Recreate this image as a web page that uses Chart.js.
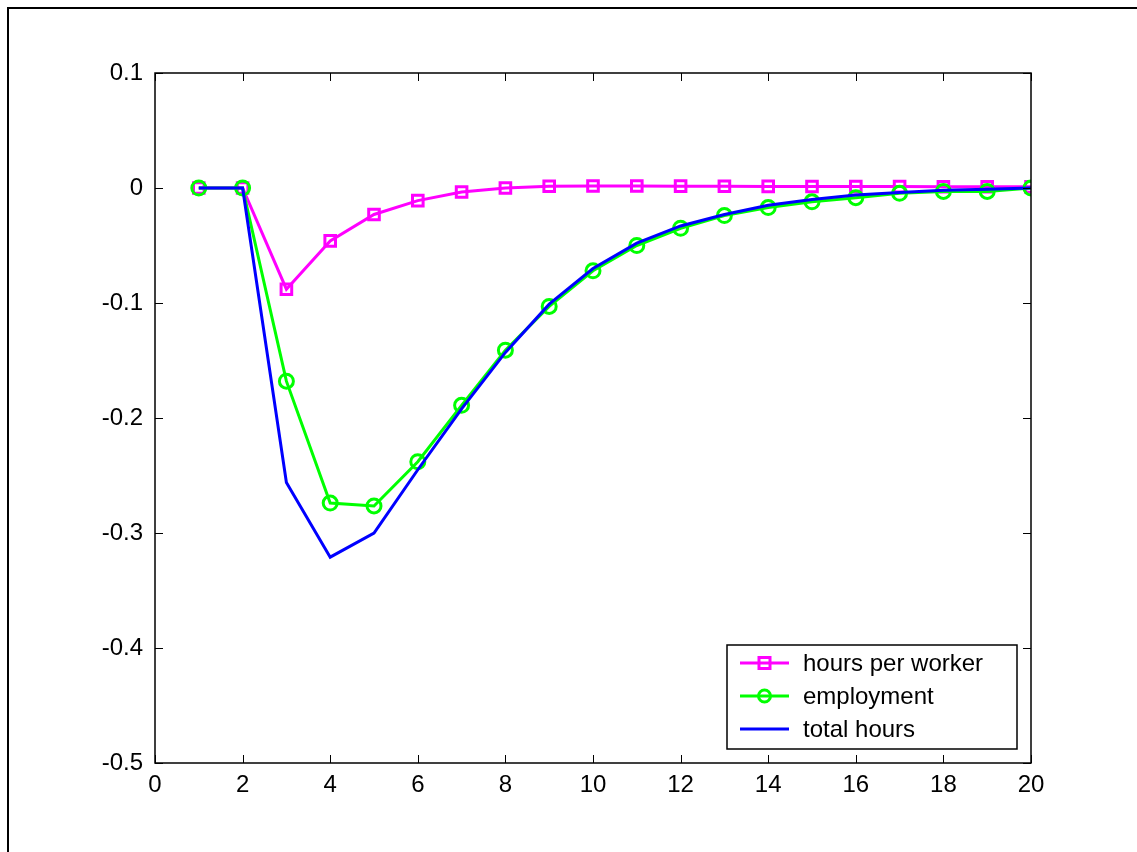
<!DOCTYPE html>
<html>
<head>
<meta charset="utf-8">
<script src="https://cdn.jsdelivr.net/npm/chart.js@4/dist/chart.umd.min.js"></script>
<style>
  html, body { margin: 0; padding: 0; background: #fff; }
  #wrap { position: relative; width: 1137px; height: 852px; }
</style>
</head>
<body>
<div id="wrap"><canvas id="c" width="1137" height="852"></canvas></div>
<script>
const periods = [1,2,3,4,5,6,7,8,9,10,11,12,13,14,15,16,17,18,19,20];
const hoursPerWorker = [0, 0, -0.088, -0.046, -0.023, -0.011, -0.0035, 0, 0.0015, 0.0017, 0.0017, 0.0016, 0.0015, 0.0014, 0.0013, 0.0012, 0.0012, 0.0011, 0.0011, 0.001];
const employment = [0, 0, -0.168, -0.274, -0.2765, -0.238, -0.189, -0.141, -0.103, -0.072, -0.050, -0.035, -0.024, -0.017, -0.012, -0.0084, -0.0046, -0.003, -0.003, 0];
const totalHours = [0, 0, -0.256, -0.321, -0.300, -0.245, -0.192, -0.143, -0.101, -0.070, -0.048, -0.033, -0.023, -0.015, -0.010, -0.006, -0.004, -0.002, -0.001, 0];
const seriesNames = ['hours per worker', 'employment', 'total hours'];
const xTicks = [0,2,4,6,8,10,12,14,16,18,20];
const yTicks = [0.1, 0, -0.1, -0.2, -0.3, -0.4, -0.5];

const FONT = '"Liberation Sans", Arial, sans-serif';

const pts = arr => arr.map((v, i) => ({x: periods[i], y: v}));

const frameAndTicks = {
  id: 'frameAndTicks',
  afterDraw(chart) {
    const ctx = chart.ctx;
    const a = chart.chartArea;
    const xs = chart.scales.x, ys = chart.scales.y;
    ctx.save();
    // outer figure frame
    ctx.strokeStyle = '#000';
    ctx.lineWidth = 2;
    ctx.beginPath();
    ctx.moveTo(8, 900); ctx.lineTo(8, 8); ctx.lineTo(1200, 8);
    ctx.stroke();
    // axes box
    ctx.lineWidth = 1.5;
    ctx.strokeRect(a.left, a.top, a.right - a.left, a.bottom - a.top);
    // inward ticks
    ctx.lineWidth = 1;
    const L = 8;
    ctx.beginPath();
    xTicks.forEach(t => {
      const px = Math.round(xs.getPixelForValue(t)) + 0.5;
      ctx.moveTo(px, a.bottom); ctx.lineTo(px, a.bottom - L);
      ctx.moveTo(px, a.top); ctx.lineTo(px, a.top + L);
    });
    yTicks.forEach(t => {
      const py = Math.round(ys.getPixelForValue(t)) + 0.5;
      ctx.moveTo(a.left, py); ctx.lineTo(a.left + L, py);
      ctx.moveTo(a.right, py); ctx.lineTo(a.right - L, py);
    });
    ctx.stroke();

    // legend
    const lx = 727, ly = 645, lw = 290, lh = 104;
    ctx.fillStyle = '#fff';
    ctx.fillRect(lx, ly, lw, lh);
    ctx.strokeStyle = '#000';
    ctx.lineWidth = 1.5;
    ctx.strokeRect(lx, ly, lw, lh);
    const dsets = chart.data.datasets;
    const order = [0, 1, 2];
    ctx.font = '24px ' + FONT;
    ctx.textBaseline = 'middle';
    order.forEach((di, k) => {
      const ds = dsets[di];
      const cy = ly + 18 + k * 33;
      ctx.strokeStyle = ds.borderColor;
      ctx.lineWidth = 3;
      ctx.beginPath(); ctx.moveTo(740, cy); ctx.lineTo(789, cy); ctx.stroke();
      const cx = 764.5;
      if (ds.pointStyle === 'rect') {
        ctx.strokeRect(cx - 5.5, cy - 5.5, 11, 11);
      } else if (ds.pointStyle === 'circle' && ds.pointRadius > 0) {
        ctx.beginPath(); ctx.arc(cx, cy, 6, 0, Math.PI * 2); ctx.stroke();
      }
      ctx.fillStyle = '#000';
      ctx.fillText(seriesNames[di], 803, cy + 1);
    });
    ctx.restore();
  }
};

new Chart(document.getElementById('c'), {
  type: 'line',
  data: {
    datasets: [
      {
        label: seriesNames[0], data: pts(hoursPerWorker),
        borderColor: '#ff00ff', backgroundColor: 'rgba(0,0,0,0)',
        borderWidth: 3, pointStyle: 'rect', pointRadius: 7.5,
        pointBorderWidth: 3, pointBorderColor: '#ff00ff', pointBackgroundColor: 'rgba(0,0,0,0)',
        order: 2
      },
      {
        label: seriesNames[1], data: pts(employment),
        borderColor: '#00ff00', backgroundColor: 'rgba(0,0,0,0)',
        borderWidth: 3, pointStyle: 'circle', pointRadius: 7,
        pointBorderWidth: 3, pointBorderColor: '#00ff00', pointBackgroundColor: 'rgba(0,0,0,0)',
        order: 1
      },
      {
        label: seriesNames[2], data: pts(totalHours),
        borderColor: '#0000ff', backgroundColor: 'rgba(0,0,0,0)',
        borderWidth: 3, pointStyle: 'circle', pointRadius: 0,
        order: 0
      }
    ]
  },
  options: {
    responsive: false,
    animation: false,
    events: [],
    layout: { padding: { left: 0, top: 73, right: 106, bottom: 0 } },
    plugins: { legend: { display: false }, tooltip: { enabled: false } },
    elements: { line: { tension: 0 } },
    scales: {
      x: {
        type: 'linear', min: 0, max: 20,
        afterBuildTicks: s => { s.ticks = xTicks.map(v => ({value: v})); },
        afterFit: s => { s.height = 89; },
        grid: { display: false, drawTicks: false },
        border: { display: false },
        ticks: { color: '#000', font: { family: FONT, size: 24 }, padding: 8, maxRotation: 0 }
      },
      y: {
        type: 'linear', min: -0.5, max: 0.1,
        afterBuildTicks: s => { s.ticks = yTicks.map(v => ({value: v})); },
        afterFit: s => { s.width = 155; },
        grid: { display: false, drawTicks: false },
        border: { display: false },
        ticks: { color: '#000', font: { family: FONT, size: 24 }, padding: 12,
                 callback: v => (Math.abs(v) < 1e-9 ? '0' : String(Math.round(v * 10) / 10)) }
      }
    }
  },
  plugins: [frameAndTicks]
});
</script>
</body>
</html>
